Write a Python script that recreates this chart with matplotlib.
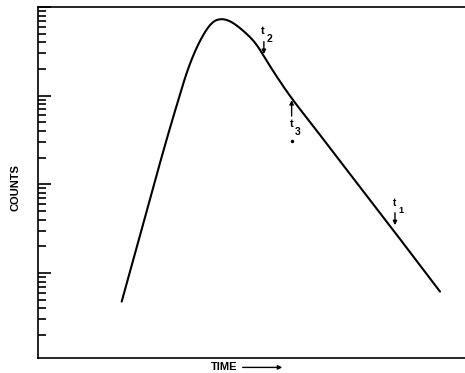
import numpy as np
import matplotlib
matplotlib.use("Agg")
import matplotlib.pyplot as plt
from matplotlib.ticker import LogLocator, NullFormatter

# Curve values (time in arbitrary units 0-100, counts on log scale)
time = [19.60, 23.89, 28.57, 30.91, 32.86, 34.59, 36.37, 37.94, 39.51, 41.05, 42.62, 44.19,
        46.53, 48.88, 51.22, 53.16, 56.21, 59.72, 63.70, 68.38, 81.26, 94.15]
counts = [4.76, 26.5, 174.3, 432.4, 894.4, 1668, 2840, 4137, 5576, 6776, 7268, 7137,
          6185, 4962, 3728, 2661, 1563, 894, 505.2, 257, 40.2, 6.17]

fig = plt.figure(figsize=(4.65, 3.73), dpi=100)
ax = fig.add_axes([0.0817, 0.0402, 0.9183, 0.941])

def natural_spline(x, y, n=800):
    x = np.asarray(x, float); y = np.asarray(y, float)
    m = len(x)
    h = np.diff(x)
    A = np.zeros((m, m)); b = np.zeros(m)
    A[0, 0] = 1; A[-1, -1] = 1
    for i in range(1, m - 1):
        A[i, i-1] = h[i-1]; A[i, i] = 2*(h[i-1] + h[i]); A[i, i+1] = h[i]
        b[i] = 3*((y[i+1]-y[i])/h[i] - (y[i]-y[i-1])/h[i-1])
    c = np.linalg.solve(A, b)
    xs = np.linspace(x[0], x[-1], n)
    idx = np.clip(np.searchsorted(x, xs) - 1, 0, m - 2)
    dx = xs - x[idx]
    bb = (y[idx+1]-y[idx])/h[idx] - h[idx]*(2*c[idx] + c[idx+1])/3
    d = (c[idx+1]-c[idx])/(3*h[idx])
    ys = y[idx] + bb*dx + c[idx]*dx**2 + d*dx**3
    return xs, ys

sx, sy = natural_spline(time, np.log10(counts))
ax.plot(sx, 10**sy, color="black", lw=1.5, solid_capstyle="round")

ax.set_yscale("log")
ax.set_xlim(0, 100)
ax.set_ylim(1.1, 1e4)

ax.yaxis.set_major_locator(LogLocator(base=10, numticks=10))
ax.yaxis.set_minor_locator(LogLocator(base=10, subs=np.arange(2, 10), numticks=10))
ax.yaxis.set_major_formatter(NullFormatter())
ax.yaxis.set_minor_formatter(NullFormatter())
ax.tick_params(axis="y", which="major", direction="in", length=9.5, width=1.2, color="black")
ax.tick_params(axis="y", which="minor", direction="in", length=5.5, width=1.2, color="black")
ax.set_xticks([])

for s in ["left", "bottom", "top"]:
    ax.spines[s].set_linewidth(1.2)
ax.spines["right"].set_visible(False)

font = dict(family=["Liberation Sans", "DejaVu Sans"], fontweight="bold", color="black")
arrow = dict(arrowstyle="-|>", color="black", lw=1.0, mutation_scale=6, shrinkA=0, shrinkB=0)

# t2: text above, arrow pointing down toward curve
ax.text(52.7, 10**3.73, "t", fontsize=8, ha="center", va="center", **font)
ax.text(54.3, 10**3.64, "2", fontsize=7.5, ha="center", va="center", **font)
ax.annotate("", xy=(52.9, 10**3.47), xytext=(52.9, 10**3.61), arrowprops=arrow)
# t3: arrow pointing up toward curve, text below
ax.annotate("", xy=(59.4, 10**2.95), xytext=(59.4, 10**2.77), arrowprops=arrow)
ax.text(59.4, 10**2.68, "t", fontsize=8, ha="center", va="center", **font)
ax.text(60.9, 10**2.59, "3", fontsize=7.5, ha="center", va="center", **font)
ax.plot([59.4], [10**2.49], marker="o", ms=1.5, color="black")
# t1: small t above, arrow down
ax.text(83.6, 10**1.79, "t", fontsize=7, ha="center", va="center", **font)
ax.text(84.9, 10**1.71, "1", fontsize=6.5, ha="center", va="center", **font)
ax.annotate("", xy=(83.6, 10**1.54), xytext=(83.6, 10**1.68), arrowprops=arrow)

fig.text(0.033, 0.497, "COUNTS", rotation=90, ha="center", va="center", fontsize=8, **font)
fig.text(0.481, 0.002, "TIME", ha="center", va="bottom", fontsize=8, **font)
fig.add_artist(matplotlib.patches.FancyArrowPatch((0.516, 0.015), (0.613, 0.015),
               transform=fig.transFigure, arrowstyle="-|>", mutation_scale=6,
               color="black", lw=1.0))

fig.savefig("out.png", dpi=100)
